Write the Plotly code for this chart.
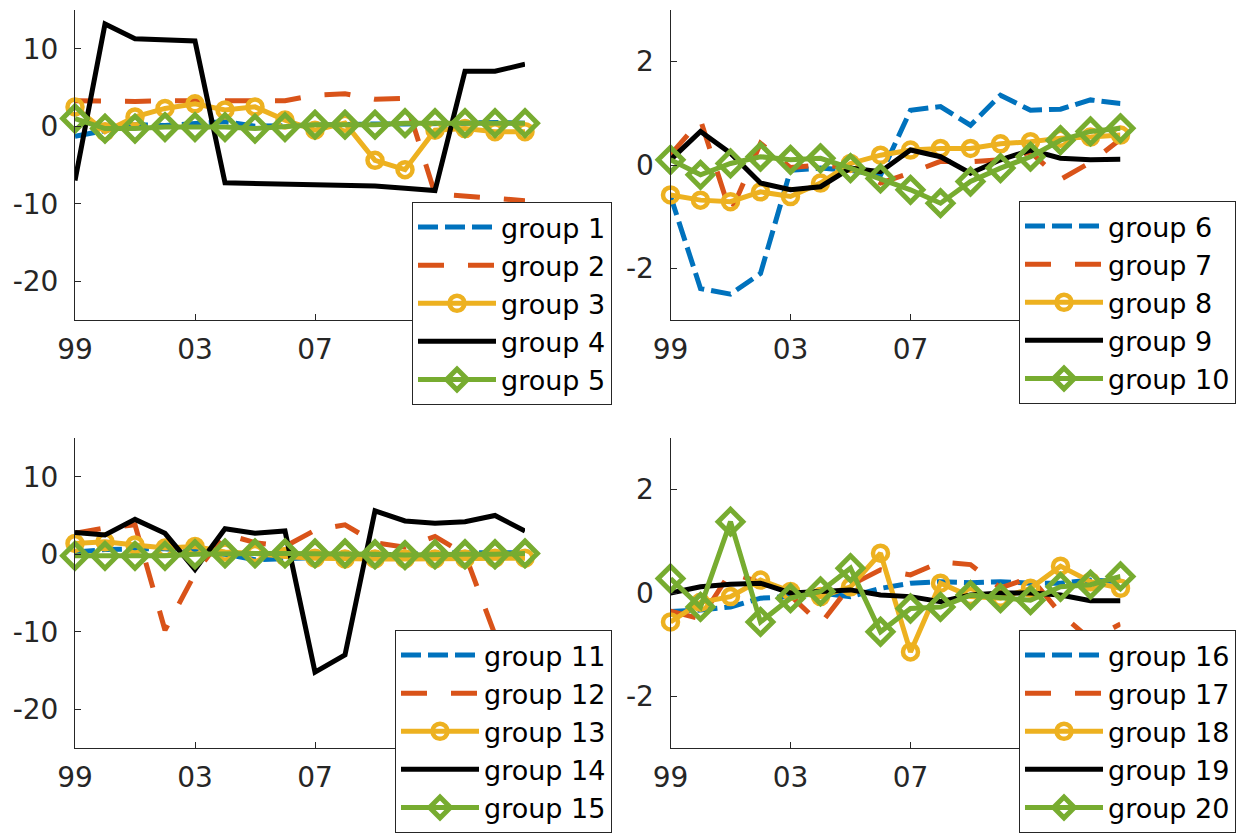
import plotly.graph_objects as go

years = list(range(1999, 2015))
tick_vals = [1999, 2003, 2007]
tick_text = ["99", "03", "07"]
ytick_big = [-20, -10, 0, 10]
ytick_big_text = ["-20", "-10", "0", "10"]
ytick_small = [-2, 0, 2]
ytick_small_text = ["-2", "0", "2"]

# top-left panel
g1 = [-1.3, -0.6, 0.2, 0.1, 0.3, 0.6, 0.0, 0.1, 0.2, 0.3, 0.3, 0.3, 0.3, 0.4, 0.5, 0.4]
g2 = [3.3, 3.2, 3.2, 3.3, 3.3, 3.2, 3.2, 3.3, 4.0, 4.2, 3.5, 3.6, -8.7, -9.0, -9.2, -9.6]
g3 = [2.5, -0.7, 1.2, 2.3, 2.9, 2.1, 2.5, 0.8, -0.5, 0.4, -4.4, -5.6, -0.5, -0.3, -0.7, -0.7]
g4 = [-7.0, 13.2, 11.3, 11.2, 11.0, -7.3, -7.4, -7.5, -7.5, -7.6, -7.7, -8.0, -8.3, 7.1, 7.1, 8.0]
g5 = [1.0, -0.3, -0.3, -0.1, -0.1, -0.1, -0.3, -0.1, 0.2, 0.2, 0.2, 0.4, 0.4, 0.4, 0.4, 0.4]

# top-right panel
g6 = [-0.6, -2.39, -2.5, -2.1, -0.1, -0.06, -0.1, -0.2, 1.06, 1.13, 0.77, 1.35, 1.06, 1.08, 1.26, 1.19]
g7 = [0.2, 0.87, -0.93, 0.42, -0.05, 0.0, -0.05, -0.35, -0.15, 0.07, 0.06, 0.1, 0.25, -0.28, 0.05, 0.5]
g8 = [-0.58, -0.68, -0.71, -0.52, -0.61, -0.35, 0.03, 0.19, 0.29, 0.32, 0.32, 0.41, 0.45, 0.52, 0.54, 0.58]
g9 = [0.1, 0.65, 0.23, -0.35, -0.48, -0.42, -0.06, -0.13, 0.29, 0.16, -0.16, 0.1, 0.29, 0.13, 0.1, 0.11]
g10 = [0.1, -0.19, 0.03, 0.16, 0.1, 0.13, -0.06, -0.26, -0.48, -0.74, -0.32, -0.06, 0.16, 0.48, 0.65, 0.71]

# bottom-left panel
g11 = [0.3, 0.6, 0.7, 0.7, 0.4, 0.0, -0.7, -0.6, -0.4, -0.3, -0.1, 0.0, 0.2, 0.2, 0.2, 0.2]
g12 = [2.7, 3.4, 3.8, -9.8, -2.5, 2.6, 1.5, 1.0, 3.1, 3.8, 1.5, 0.9, 2.3, 0.0, -10.4, -10.9]
g13 = [1.4, 1.6, 1.2, 0.8, 1.0, 0.3, 0.1, -0.3, -0.5, -0.6, -0.6, -0.6, -0.6, -0.6, -0.5, -0.5]
g14 = [2.8, 2.5, 4.5, 2.7, -1.95, 3.3, 2.7, 3.0, -15.2, -13.0, 5.6, 4.3, 4.0, 4.2, 5.0, 3.0]
g15 = [-0.2, -0.2, -0.2, -0.2, 0.0, 0.1, 0.1, 0.1, 0.1, 0.1, 0.0, -0.1, 0.0, 0.0, 0.0, 0.1]

# bottom-right panel
g16 = [-0.36, -0.33, -0.27, -0.1, -0.07, 0.0, -0.07, 0.09, 0.19, 0.22, 0.2, 0.22, 0.19, 0.19, 0.25, 0.22]
g17 = [-0.35, -0.5, 0.4, 0.2, -0.05, -0.6, 0.15, 0.45, 0.35, 0.6, 0.55, 0.1, 0.3, -0.4, -0.9, -0.6]
g18 = [-0.56, -0.18, -0.07, 0.25, 0.03, -0.07, 0.12, 0.77, -1.14, 0.19, -0.07, -0.1, 0.09, 0.52, 0.22, 0.09]
g19 = [0.0, 0.12, 0.17, 0.19, 0.0, 0.03, 0.06, -0.04, -0.07, -0.17, -0.04, 0.0, 0.0, -0.04, -0.15, -0.15]
g20 = [0.28, -0.27, 1.38, -0.56, -0.1, 0.03, 0.48, -0.75, -0.3, -0.27, -0.04, -0.1, -0.14, 0.12, 0.16, 0.32]

panels = [
    (["group 1", "group 2", "group 3", "group 4", "group 5"], [g1, g2, g3, g4, g5]),
    (["group 6", "group 7", "group 8", "group 9", "group 10"], [g6, g7, g8, g9, g10]),
    (["group 11", "group 12", "group 13", "group 14", "group 15"], [g11, g12, g13, g14, g15]),
    (["group 16", "group 17", "group 18", "group 19", "group 20"], [g16, g17, g18, g19, g20]),
]

FONT = "DejaVu Sans, Liberation Sans, Arial, sans-serif"
AX = "#262626"
W, H = 1238, 835

BLUE = "#0072BD"
ORANGE = "#D95319"
YELLOW = "#EDB120"
GREEN = "#77AC30"
LW = 5

styles = [
    dict(mode="lines", line=dict(color=BLUE, width=LW, dash="20px,7px")),
    dict(mode="lines", line=dict(color=ORANGE, width=LW, dash="26px,24px")),
    dict(mode="lines+markers", line=dict(color=YELLOW, width=LW),
         marker=dict(symbol="circle-open", size=15, color=YELLOW, line=dict(width=4.5, color=YELLOW))),
    dict(mode="lines", line=dict(color="black", width=LW)),
    dict(mode="lines+markers", line=dict(color=GREEN, width=LW),
         marker=dict(symbol="diamond-open", size=19, color=GREEN, line=dict(width=5, color=GREEN))),
]

# px geometry -> paper fractions
xdom = [[75 / W, 525 / W], [670.5 / W, 1120.5 / W]]
ydom = [[1 - 320 / H, 1 - 10 / H], [1 - 748 / H, 1 - 438 / H]]
yranges = [[-25, 15], [-3, 3], [-25, 15], [-3, 3]]
yticks = [(ytick_big, ytick_big_text), (ytick_small, ytick_small_text),
          (ytick_big, ytick_big_text), (ytick_small, ytick_small_text)]
legpos = [(612 / W, 1 - 405 / H), (1236 / W, 1 - 404 / H), (612 / W, 1 - 833 / H), (1236 / W, 1 - 833 / H)]

fig = go.Figure()
layout = dict(width=W, height=H, margin=dict(l=0, r=0, t=0, b=0, autoexpand=False),
              paper_bgcolor="white", plot_bgcolor="white",
              font=dict(family=FONT, size=28, color=AX))

for i, (names, series) in enumerate(panels):
    k = "" if i == 0 else str(i + 1)
    col = i % 2
    row = i // 2
    legname = "legend" + k
    for name, vals, st in zip(names, series, styles):
        fig.add_trace(go.Scatter(x=years, y=vals, name=name, xaxis="x" + k, yaxis="y" + k,
                                 legend=legname, cliponaxis=False, **st))
    layout["xaxis" + k] = dict(domain=xdom[col], anchor="y" + k, range=[1999, 2014],
                               tickvals=tick_vals, ticktext=tick_text, ticks="inside",
                               ticklen=6, tickwidth=1, tickcolor=AX, showline=True,
                               linecolor=AX, linewidth=1, showgrid=False, zeroline=False,
                               automargin=False,
                               tickfont=dict(size=28, color=AX, family=FONT),
                               ticklabelstandoff=4)
    tv, tt = yticks[i]
    layout["yaxis" + k] = dict(domain=ydom[row], anchor="x" + k, range=yranges[i],
                               tickvals=tv, ticktext=tt, ticks="inside", ticklen=6, tickwidth=1,
                               tickcolor=AX, showline=True, linecolor=AX, linewidth=1,
                               showgrid=False, zeroline=False, automargin=False,
                               tickfont=dict(size=28, color=AX, family=FONT),
                               ticklabelstandoff=10)
    lx, ly = legpos[i]
    layout[legname] = dict(x=lx, y=ly, xanchor="right", yanchor="bottom", xref="paper",
                           yref="paper", bgcolor="white", bordercolor=AX, borderwidth=1,
                           font=dict(size=27, family=FONT, color="black"), itemwidth=78,
                           tracegroupgap=0)

fig.update_layout(**layout)
fig.write_html("out.html")
